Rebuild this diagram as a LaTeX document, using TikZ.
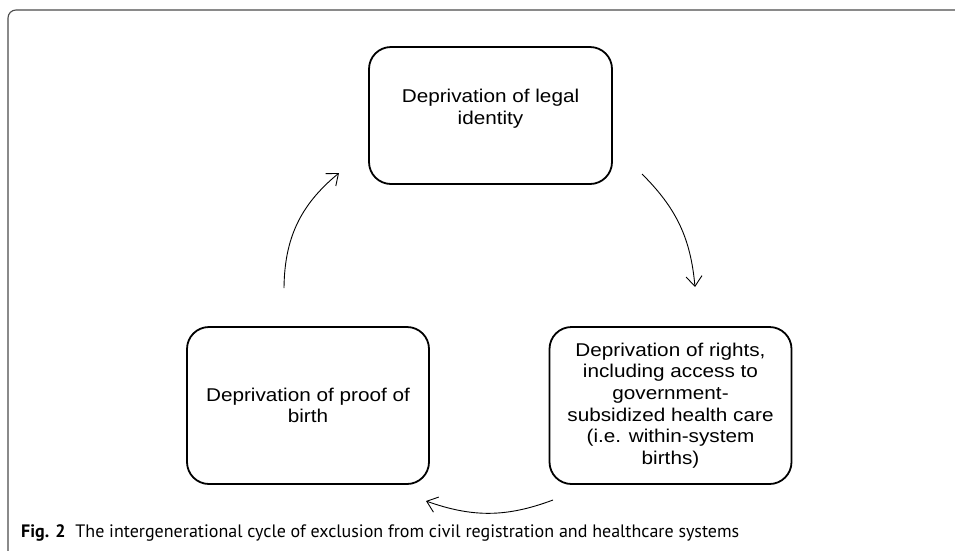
\documentclass[tikz,border=0pt]{standalone}
\usepackage{fontspec}
\setmainfont{Liberation Sans}[FakeStretch=1.12]
\newfontfamily\capfont{PT Sans}
\usetikzlibrary{arrows.meta}
\begin{document}
\begin{tikzpicture}[x=1pt,y=-1pt,
  box/.style={draw=black, line width=1.8pt, rounded corners=22pt, inner sep=0pt,
    minimum width=242pt, minimum height=157pt},
  txt/.style={align=center, inner sep=0pt, font=\fontsize{18.5}{21.6}\selectfont},
  cyc/.style={draw=black, line width=0.9pt, -{Straight Barb[length=10pt,width=16pt,line width=0.9pt]}}]
\useasboundingbox (0,0) rectangle (955,550);
\fill[white] (0,0) rectangle (955,550);
% frame
\draw[black!70, line width=1.1pt, rounded corners=8pt] (8,551) -- (8,10) -- (956,10);
% boxes
\node[box, minimum width=243pt, minimum height=137pt] (legal) at (490.5,115.5) {};
\node[txt] (legalt) at ([yshift=7pt]legal.center) {Deprivation of legal\\identity};
\node[box] (rights) at (670.5,405.5) {};
\node[txt] (rightst) at (rights.center) {Deprivation of rights,\\including access to\\government-\\subsidized health care\\(i.e. within-system\\births)};
\node[box] (proof) at (308,405.5) {};
\node[txt] (prooft) at (proof.center) {Deprivation of proof of\\birth};
% connectors
\coordinate (a1) at (284,288);
\coordinate (b1) at (339,173);
\coordinate (a2) at (642,174);
\coordinate (b2) at (695,287);
\coordinate (a3) at (553,500);
\coordinate (b3) at (426,501);
\draw[cyc] (a1) to[bend left=25] (b1);
\draw[cyc] (a2) to[bend left=20] (b2);
\draw[cyc] (a3) to[bend left=20] (b3);
% caption
\node[anchor=base west, inner sep=0pt, font=\capfont\fontsize{18}{21}\selectfont] (cap) at (21,537)
  {\textbf{Fig. 2}\hspace{0.55em}The intergenerational cycle of exclusion from civil registration and healthcare systems};
\end{tikzpicture}
\end{document}
